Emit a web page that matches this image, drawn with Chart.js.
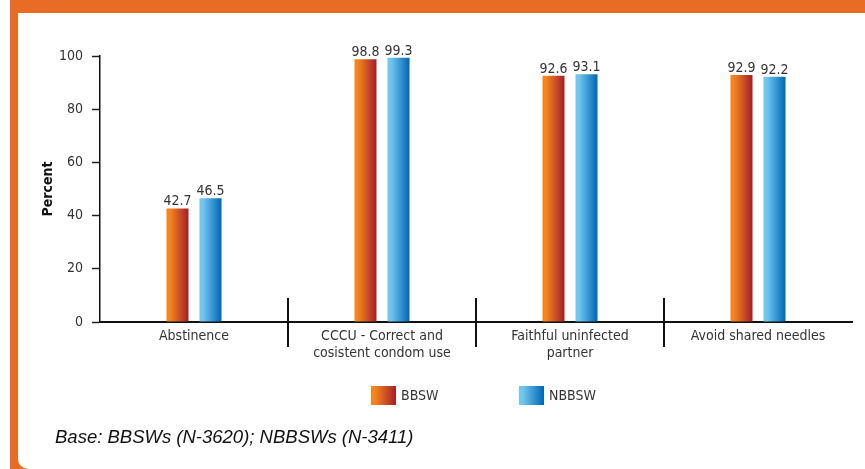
<!DOCTYPE html>
<html>
<head>
<meta charset="utf-8">
<script src="https://cdn.jsdelivr.net/npm/chart.js@4.4.1/dist/chart.umd.min.js"></script>
<style>
  html, body { margin: 0; padding: 0; background: #fff; }
  #frame { position: absolute; left: 10px; top: 0; width: 855px; height: 469px; background: #e86c25; }
  #panel { position: absolute; left: 18px; top: 13px; width: 847px; height: 456px; background: #fff; border-bottom-left-radius: 10px; }
  #wrap { position: absolute; left: 0; top: 0; width: 865px; height: 469px; }
  .legend { position: absolute; top: 386px; font: 14px 'DejaVu Sans Condensed', sans-serif; color: #333; }
  .legend span.box { position: absolute; left: 0; top: 0; width: 25px; height: 19px; }
  .legend span.txt { position: absolute; left: 30px; top: 1px; white-space: nowrap; }
  #note { position: absolute; left: 55px; top: 426px; font: italic 18.5px 'Liberation Sans', Arial, sans-serif; color: #111; white-space: nowrap; }
</style>
</head>
<body>
<div id="frame"></div>
<div id="panel"></div>
<div id="wrap"><canvas id="chart" width="865" height="469"></canvas></div>
<div class="legend" style="left:371px"><span class="box" style="background:linear-gradient(to right,#f5861f 15%,#a31e2b)"></span><span class="txt">BBSW</span></div>
<div class="legend" style="left:519px"><span class="box" style="background:linear-gradient(to right,#70c7ef 15%,#0065b2)"></span><span class="txt">NBBSW</span></div>
<div id="note">Base: BBSWs (N-3620); NBBSWs (N-3411)</div>
<script>
const categories = [
    'Abstinence',
    ['CCCU - Correct and', 'cosistent condom use'],
    ['Faithful uninfected', 'partner'],
    'Avoid shared needles'
];
const bbsw = [42.7, 98.8, 92.6, 92.9];
const nbbsw = [46.5, 99.3, 93.1, 92.2];
const yTicks = [0, 20, 40, 60, 80, 100];

const FONT = "'DejaVu Sans Condensed', sans-serif";
const gradStops = [['#f5861f', '#a31e2b'], ['#70c7ef', '#0065b2']];

// paints each bar with a left-to-right gradient and writes its value above it
const barDecor = {
    id: 'barDecor',
    beforeDatasetsDraw(chart) {
        const ctx = chart.ctx;
        chart.data.datasets.forEach((ds, di) => {
            chart.getDatasetMeta(di).data.forEach(bar => {
                const g = ctx.createLinearGradient(bar.x - bar.width / 2, 0, bar.x + bar.width / 2, 0);
                g.addColorStop(0, gradStops[di][0]);
                g.addColorStop(0.15, gradStops[di][0]);
                g.addColorStop(1, gradStops[di][1]);
                // options are shared between bars, so give each bar its own copy
                bar.options = Object.assign({}, bar.options, { backgroundColor: g });
            });
        });
    },
    afterDatasetsDraw(chart) {
        const ctx = chart.ctx;
        ctx.save();
        ctx.font = '14px ' + FONT;
        ctx.fillStyle = '#333';
        ctx.textAlign = 'center';
        ctx.textBaseline = 'alphabetic';
        chart.data.datasets.forEach((ds, di) => {
            chart.getDatasetMeta(di).data.forEach((bar, i) => {
                ctx.fillText(ds.data[i].toFixed(1), bar.x, bar.y - 3);
            });
        });
        // separators between categories
        const x = chart.scales.x;
        const bottom = chart.chartArea.bottom;
        ctx.strokeStyle = '#111';
        ctx.lineWidth = 2;
        for (let i = 0; i < categories.length - 1; i++) {
            const px = (x.getPixelForTick(i) + x.getPixelForTick(i + 1)) / 2;
            ctx.beginPath();
            ctx.moveTo(px, bottom - 24);
            ctx.lineTo(px, bottom + 25);
            ctx.stroke();
        }
        ctx.restore();
    }
};

new Chart(document.getElementById('chart'), {
    type: 'bar',
    data: {
        labels: categories,
        datasets: [
            { label: 'BBSW', data: bbsw, backgroundColor: '#f5861f' },
            { label: 'NBBSW', data: nbbsw, backgroundColor: '#0065b2' }
        ]
    },
    options: {
        responsive: false,
        animation: false,
        categoryPercentage: 0.351,
        barPercentage: 0.667,
        layout: { padding: { top: 56, right: 13, left: 0, bottom: 0 } },
        scales: {
            x: {
                grid: { display: false, drawTicks: false },
                border: { color: '#111', width: 2 },
                ticks: { color: '#333', font: { family: FONT, size: 14 }, padding: 6, maxRotation: 0, autoSkip: false },
                afterFit: s => { s.height = 147; }
            },
            y: {
                min: 0,
                max: 100,
                afterBuildTicks: s => { s.ticks = yTicks.map(v => ({ value: v })); },
                grid: { drawOnChartArea: false, tickLength: 8, color: '#222', tickWidth: 1.5 },
                border: { color: '#111', width: 1.5 },
                ticks: { color: '#333', font: { family: FONT, size: 14 }, padding: 9 },
                title: { display: true, text: 'Percent', color: '#111', font: { family: FONT, size: 14, weight: 'bold' }, padding: { top: 40 } },
                afterFit: s => { s.width = 100; }
            }
        },
        plugins: {
            legend: { display: false },
            tooltip: { enabled: false }
        }
    },
    plugins: [barDecor]
});
</script>
</body>
</html>
